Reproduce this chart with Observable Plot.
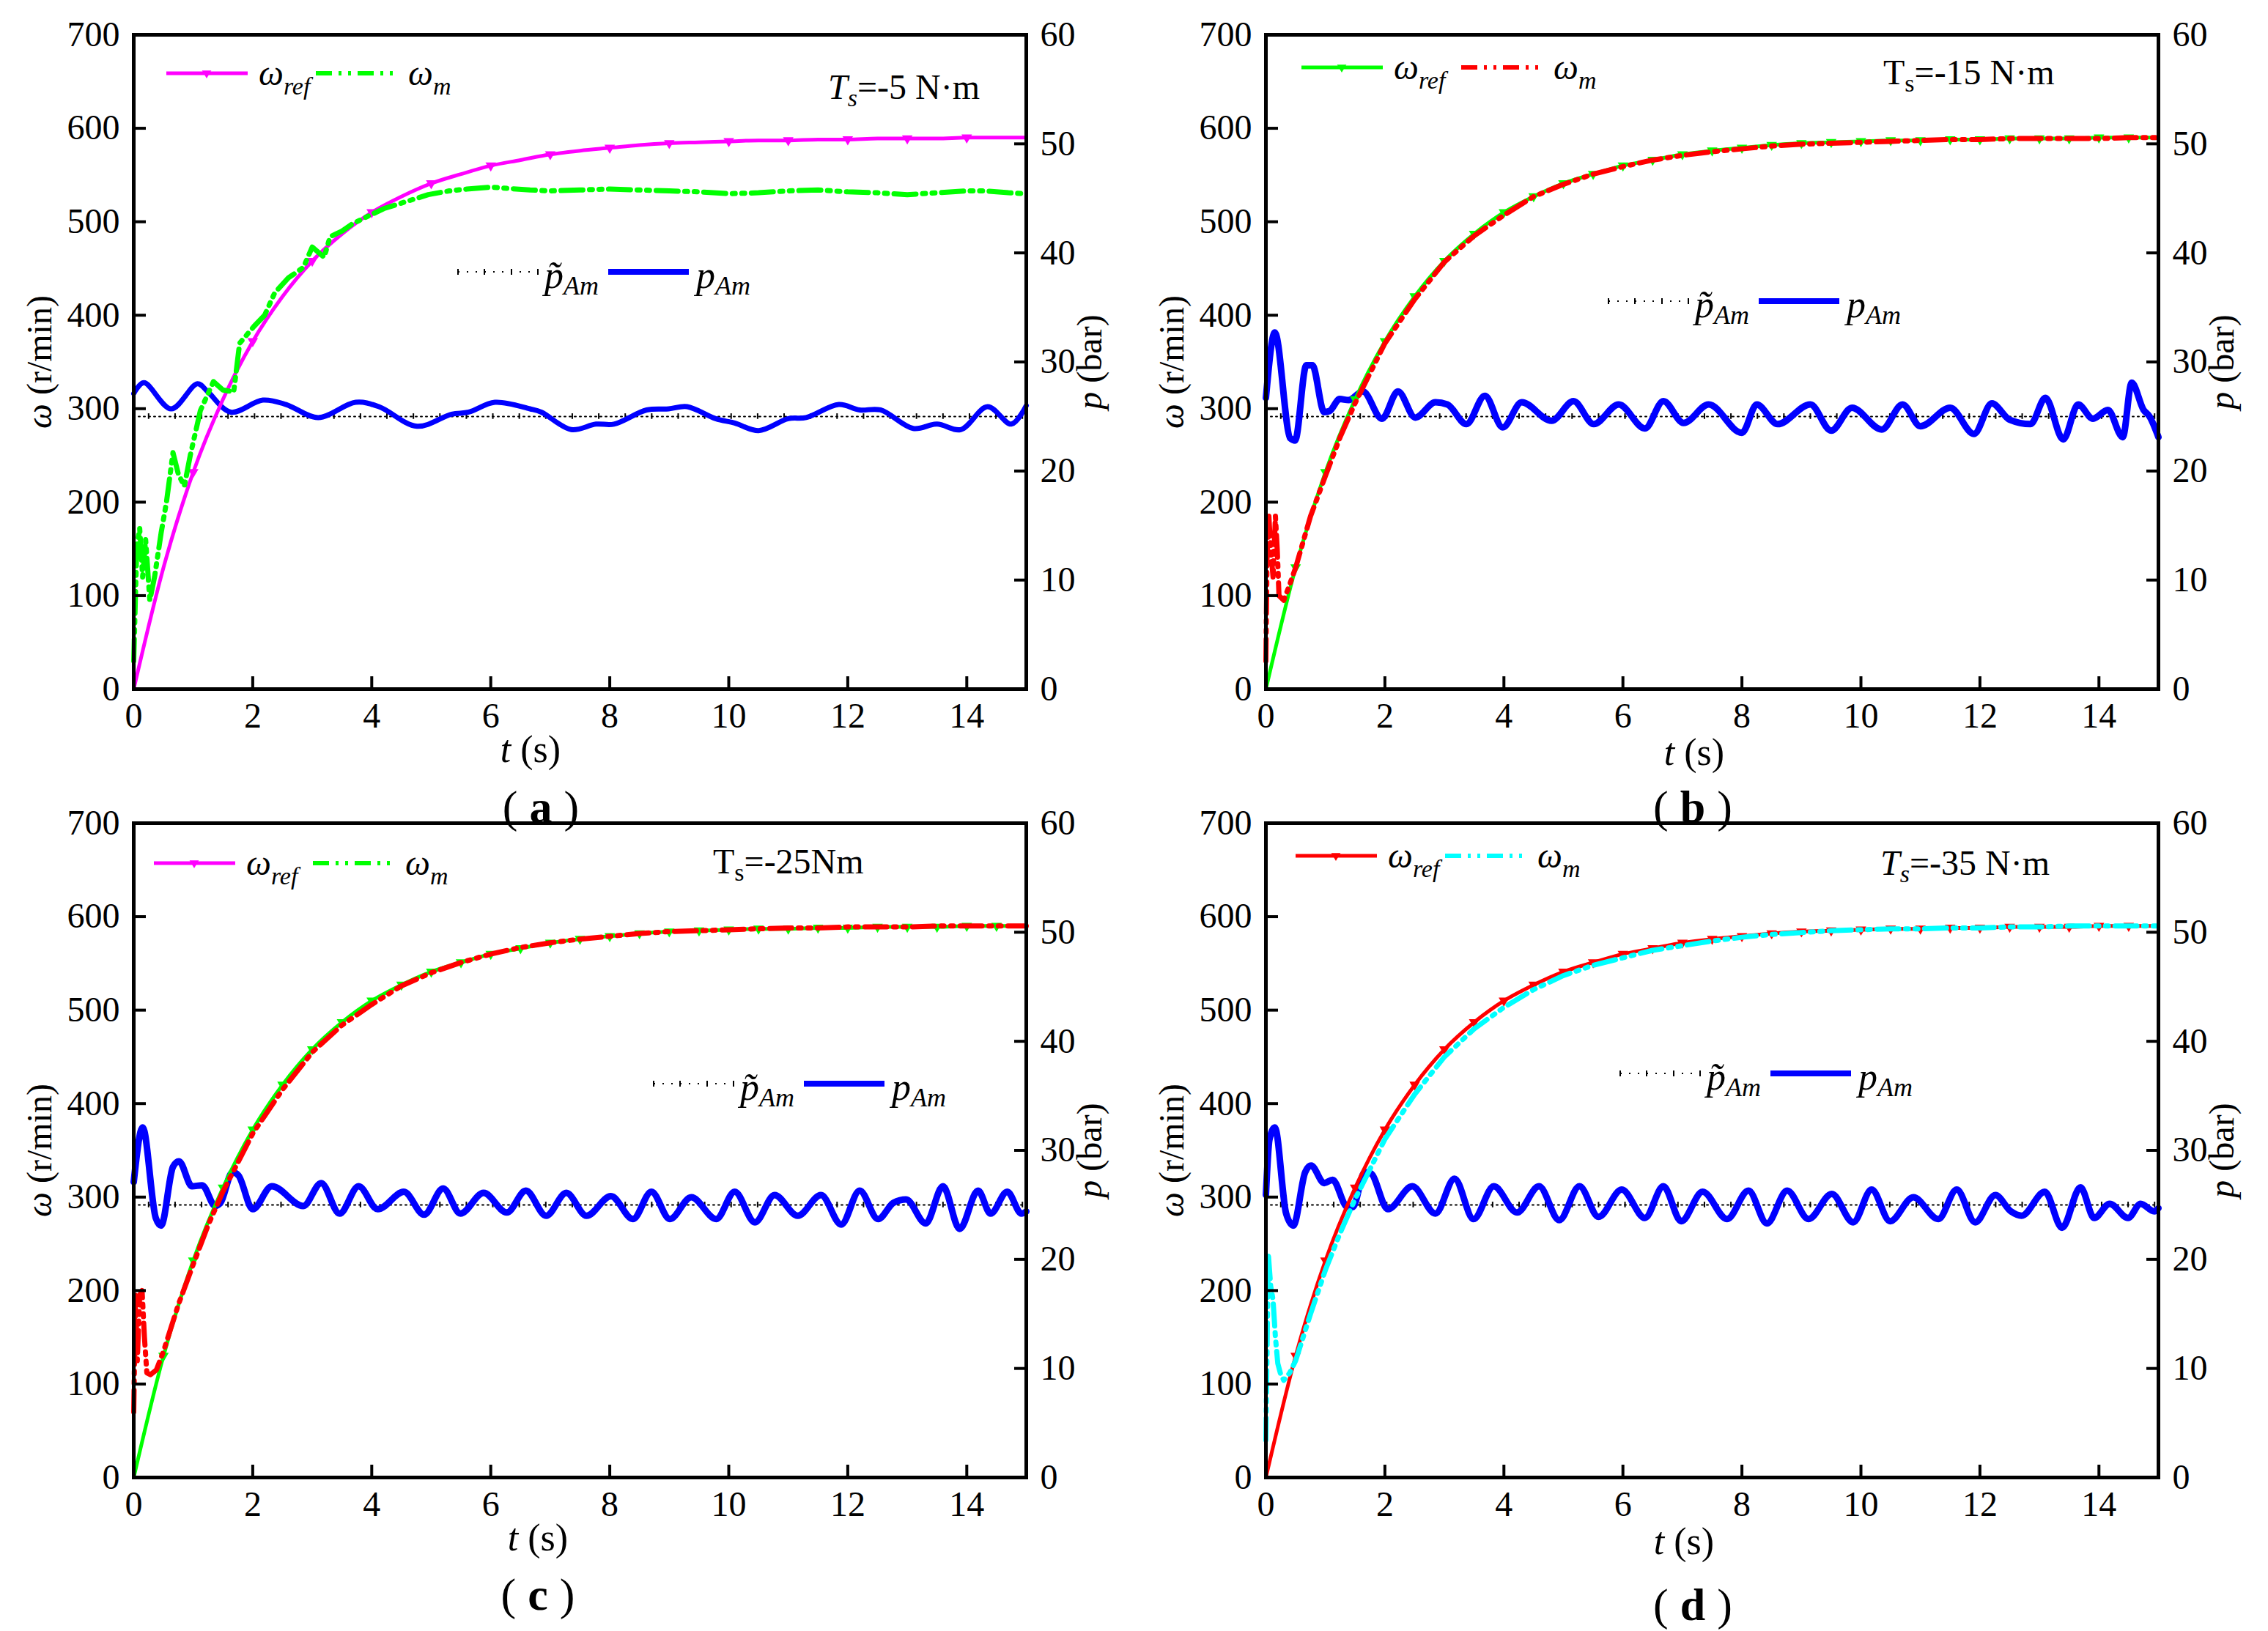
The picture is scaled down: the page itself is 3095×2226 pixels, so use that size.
<!DOCTYPE html>
<html>
<head>
<meta charset="utf-8">
<script src="https://cdn.jsdelivr.net/npm/d3@7"></script>
<script src="https://cdn.jsdelivr.net/npm/@observablehq/plot@0.6"></script>
<style>
  body { margin: 0; background: #fff; }
  #fig { position: relative; width: 3095px; height: 2226px; background: #fff; }
  .panel { position: absolute; width: 1545px; height: 1150px; }
  .panel svg { position: absolute; left: 0; top: 0; overflow: visible; }
</style>
</head>
<body>
<div id="fig"></div>
<script>
// axes
const xTicks = [0, 2, 4, 6, 8, 10, 12, 14];
const wTicks = [0, 100, 200, 300, 400, 500, 600, 700];
const pTicks = [0, 10, 20, 30, 40, 50, 60];
const wMax = 700;
const pMax = 60;
const pScale = wMax / pMax; // bar -> r/min position, right axis onto left axis

// reference speed ω_ref (r/min), same in all four runs
const tRef = [0, 0.5, 1, 1.5, 2, 2.5, 3, 3.5, 4, 4.5, 5, 5.5, 6, 6.5, 7, 7.5, 8, 8.5, 9, 9.5, 10, 10.5, 11, 11.5, 12, 12.5, 13, 13.5, 14, 14.5, 15];
const wRef = [0, 130, 232, 310, 372, 420, 458, 487, 510, 527, 541, 551, 560, 566, 572, 576, 579, 582, 584, 585, 586, 587, 587, 588, 588, 589, 589, 589, 590, 590, 590];

// measured speed ω_m (r/min)
const tmA = [0, 0.05, 0.1, 0.15, 0.2, 0.27, 0.35, 0.46, 0.55, 0.66, 0.75, 0.85, 0.95, 1.12, 1.34, 1.5, 1.68, 1.78, 2.02, 2.2, 2.37, 2.6, 2.85, 3.0, 3.2, 3.3, 3.5, 3.68, 4.2, 4.6, 4.95, 5.3, 5.6, 6.0, 6.66, 7.0, 7.5, 8.0, 8.5, 9.0, 9.5, 10.0, 10.5, 11.0, 11.5, 12.0, 12.5, 13.0, 13.5, 14.0, 14.3, 14.7, 15];
const wmA = [30, 150, 172, 120, 160, 95, 120, 167, 200, 253, 230, 217, 250, 298, 329, 320, 318, 370, 388, 400, 424, 440, 451, 473, 462, 484, 490, 498, 514, 522, 529, 533, 535, 537, 534, 533, 534, 535, 534, 533, 532, 530, 531, 533, 534, 532, 531, 529, 531, 533, 533, 531, 530];

const tmB = [0, 0.02, 0.05, 0.08, 0.12, 0.16, 0.19, 0.22, 0.3, 0.4, 0.5, 0.75, 1, 1.25, 1.5, 2, 2.5, 3, 3.5, 4, 4.5, 5, 5.5, 6, 6.5, 7, 7.5, 8, 8.5, 9, 9.5, 10, 10.5, 11, 11.5, 12, 12.5, 13, 13.5, 14, 14.5, 15];
const wmB = [30, 145, 185, 150, 120, 185, 150, 100, 95, 112, 130, 185, 228, 270, 306, 370, 417, 457, 485, 507, 527, 540, 551, 559, 566, 571, 575, 578, 581, 583, 584, 585, 586, 587, 588, 588, 589, 589, 589, 589, 590, 590];

const tmC = [0, 0.03, 0.06, 0.1, 0.14, 0.18, 0.22, 0.28, 0.38, 0.5, 0.75, 1, 1.25, 1.5, 2, 2.5, 3, 3.5, 4, 4.5, 5, 5.5, 6, 6.5, 7, 7.5, 8, 8.5, 9, 9.5, 10, 10.5, 11, 11.5, 12, 12.5, 13, 13.5, 14, 14.5, 15];
const wmC = [70, 195, 125, 195, 200, 150, 112, 110, 115, 135, 185, 228, 270, 306, 368, 415, 455, 484, 506, 526, 540, 551, 560, 567, 572, 576, 579, 582, 584, 585, 586, 587, 588, 588, 589, 589, 589, 590, 590, 590, 590];

const tmD = [0, 0.04, 0.08, 0.12, 0.16, 0.2, 0.25, 0.3, 0.4, 0.5, 0.75, 1, 1.25, 1.5, 2, 2.5, 3, 3.5, 4, 4.5, 5, 5.5, 6, 6.5, 7, 7.5, 8, 8.5, 9, 9.5, 10, 10.5, 11, 11.5, 12, 12.5, 13, 13.5, 14, 14.5, 15];
const wmD = [40, 240, 205, 190, 150, 122, 110, 104, 112, 125, 175, 222, 262, 298, 362, 410, 450, 480, 503, 522, 537, 548, 556, 564, 569, 574, 578, 581, 583, 585, 586, 587, 587, 588, 588, 589, 589, 590, 590, 590, 590];

// chamber pressure p_Am (bar)
const tpA = [0, 0.17, 0.63, 1.07, 1.24, 1.63, 2.17, 2.56, 3.1, 3.73, 4.12, 4.76, 5.34, 5.63, 6.07, 6.66, 6.85, 7.35, 7.77, 8.07, 8.62, 8.99, 9.3, 9.78, 10.1, 10.5, 11.0, 11.3, 11.85, 12.2, 12.55, 13.1, 13.5, 13.9, 14.35, 14.75, 15];
const pA = [27.1, 28.1, 25.7, 28.0, 27.3, 25.4, 26.5, 26.1, 24.9, 26.3, 25.9, 24.1, 25.2, 25.4, 26.3, 25.7, 25.4, 23.8, 24.3, 24.3, 25.6, 25.7, 25.9, 24.8, 24.4, 23.7, 24.8, 24.9, 26.1, 25.6, 25.6, 23.9, 24.3, 23.8, 25.9, 24.3, 26.0];

const tpB = [0, 0.15, 0.41, 0.49, 0.68, 0.78, 0.98, 1.07, 1.24, 1.39, 1.63, 1.95, 2.22, 2.51, 2.85, 3.05, 3.37, 3.68, 3.98, 4.3, 4.8, 5.17, 5.51, 5.93, 6.37, 6.68, 7.02, 7.44, 8.0, 8.25, 8.6, 9.15, 9.5, 9.85, 10.35, 10.7, 11.0, 11.5, 11.9, 12.2, 12.5, 12.85, 13.1, 13.4, 13.65, 13.9, 14.15, 14.4, 14.55, 14.75, 14.85, 15];
const pB = [26.7, 32.7, 23.0, 22.8, 29.7, 29.7, 25.4, 25.5, 26.6, 26.5, 27.3, 24.8, 27.3, 24.9, 26.3, 26.1, 24.3, 26.9, 24.0, 26.3, 24.6, 26.4, 24.3, 26.1, 23.9, 26.4, 24.4, 26.1, 23.5, 26.1, 24.3, 26.1, 23.7, 25.8, 23.8, 26.1, 24.1, 25.8, 23.4, 26.2, 24.7, 24.3, 26.7, 22.9, 26.1, 24.8, 25.6, 23.1, 28.1, 25.6, 25.0, 23.1];

const tpC = [0, 0.15, 0.37, 0.46, 0.66, 0.76, 0.98, 1.15, 1.37, 1.46, 1.66, 1.76, 2.0, 2.32, 2.85, 3.15, 3.46, 3.78, 4.1, 4.54, 4.88, 5.2, 5.49, 5.88, 6.27, 6.59, 6.93, 7.27, 7.61, 8.02, 8.39, 8.7, 9.01, 9.37, 9.79, 10.1, 10.44, 10.77, 11.16, 11.55, 11.89, 12.2, 12.51, 12.77, 12.98, 13.31, 13.6, 13.88, 14.19, 14.4, 14.68, 14.92, 15];
const pC = [27.1, 32.1, 23.8, 23.1, 28.5, 29.0, 26.7, 26.8, 24.9, 25.2, 28.0, 27.7, 24.6, 26.7, 24.9, 27.0, 24.2, 26.7, 24.6, 26.2, 24.1, 26.5, 24.2, 26.1, 24.3, 26.3, 24.0, 26.1, 24.0, 25.8, 23.7, 26.2, 23.7, 25.7, 23.7, 26.2, 23.4, 25.9, 24.0, 25.9, 23.2, 26.3, 23.7, 25.2, 25.5, 23.3, 26.7, 22.8, 26.3, 24.2, 26.2, 24.2, 24.4];

const tpD = [0, 0.06, 0.15, 0.34, 0.46, 0.66, 0.76, 0.98, 1.12, 1.37, 1.46, 1.66, 1.76, 2.05, 2.46, 2.85, 3.17, 3.49, 3.83, 4.22, 4.59, 4.93, 5.27, 5.59, 5.98, 6.37, 6.68, 6.98, 7.34, 7.75, 8.11, 8.42, 8.76, 9.12, 9.51, 9.87, 10.18, 10.49, 10.88, 11.3, 11.61, 11.92, 12.26, 12.52, 12.7, 13.09, 13.38, 13.69, 13.92, 14.18, 14.49, 14.7, 14.93, 15];
const pD = [25.9, 31.0, 32.1, 24.2, 23.1, 28.0, 28.6, 27.0, 27.3, 24.8, 24.8, 28.0, 27.9, 24.6, 26.7, 24.2, 27.4, 23.7, 26.7, 24.3, 26.7, 23.6, 26.7, 23.9, 26.4, 23.8, 26.7, 23.5, 26.2, 23.7, 26.3, 23.3, 26.3, 23.7, 26.0, 23.4, 26.4, 23.5, 25.7, 23.7, 26.4, 23.4, 25.9, 24.4, 24.0, 26.2, 22.9, 26.6, 23.8, 25.1, 23.8, 25.1, 24.4, 24.7];

// pressure reference p~_Am (bar)
const tTilde = [0.08, 15];
const pTilde = 25;

const serif = "'Liberation Serif', serif";

const triangleDown = {
  draw(context, size) {
    const h = Math.sqrt(size);
    context.moveTo(-0.58 * h, -0.35 * h);
    context.lineTo(0.58 * h, -0.35 * h);
    context.lineTo(0, 0.65 * h);
    context.closePath();
  },
};

const panels = [
  {
    name: "a", left: 0, top: 0, tm: tmA, wm: wmA, tp: tpA, p: pA,
    refColor: "#ff00ff", mColor: "#00ff00", legRef: "#ff00ff", legM: "#00ff00",
    markStep: 1, pWidth: 7, pCurve: "catmull-rom",
    leg1: {x: 227, y: 100, gap: 204}, leg2: {x: 625, y: 371},
    ts: {x: 1130, y: 135, italic: true, rest: "=-5 N·m"},
    tLabel: {x: 724, y: 1040}, cap: {x: 738, y: 1122},
  },
  {
    name: "b", left: 1545, top: 0, tm: tmB, wm: wmB, tp: tpB, p: pB,
    refColor: "#00ff00", mColor: "#ff0000", legRef: "#00ff00", legM: "#ff0000",
    markStep: 0.5, pWidth: 9, pCurve: "monotone-x",
    leg1: {x: 231, y: 92, gap: 218}, leg2: {x: 650, y: 411},
    ts: {x: 1025, y: 115, italic: false, rest: "=-15 N·m"},
    tLabel: {x: 767, y: 1044}, cap: {x: 765, y: 1122},
  },
  {
    name: "c", left: 0, top: 1076, tm: tmC, wm: wmC, tp: tpC, p: pC,
    refColor: "#00ff00", mColor: "#ff0000", legRef: "#ff00ff", legM: "#00ff00",
    markStep: 0.5, pWidth: 9, pCurve: "monotone-x",
    leg1: {x: 210, y: 102, gap: 217}, leg2: {x: 892, y: 403},
    ts: {x: 973, y: 116, italic: false, rest: "=-25Nm"},
    tLabel: {x: 734, y: 1040}, cap: {x: 734, y: 1121},
  },
  {
    name: "d", left: 1545, top: 1076, tm: tmD, wm: wmD, tp: tpD, p: pD,
    refColor: "#ff0000", mColor: "#00ffff", legRef: "#ff0000", legM: "#00ffff",
    markStep: 0.5, pWidth: 9, pCurve: "monotone-x",
    leg1: {x: 223, y: 92, gap: 204}, leg2: {x: 666, y: 389},
    ts: {x: 1021, y: 118, italic: true, rest: "=-35 N·m"},
    tLabel: {x: 753, y: 1045}, cap: {x: 765, y: 1135},
  },
];

const mDash = "30,9,4,9,4,9";

function drawPanel(cfg) {
  const ref = tRef.map((t, i) => ({t, w: wRef[i]}));
  const markers = ref.filter((d) => d.t > 0 && d.t < 15 && Number.isInteger(d.t / cfg.markStep));
  const meas = cfg.tm.map((t, i) => ({t, w: cfg.wm[i]}));
  const press = cfg.tp.map((t, i) => ({t, w: cfg.p[i] * pScale}));
  const tilde = tTilde.map((t) => ({t, w: pTilde * pScale}));
  const tildeTicks = d3.range(0.25, 15, 0.445).map((t) => ({t}));

  const chart = Plot.plot({
    width: 1545,
    height: 1076,
    marginLeft: 182,
    marginRight: 145,
    marginTop: 47,
    marginBottom: 136,
    style: `font-family: ${serif}; font-size: 48px; background: transparent; color: black;`,
    x: {domain: [0, 15]},
    y: {domain: [0, wMax]},
    marks: [
      Plot.line(tilde, {x: "t", y: "w", stroke: "black", strokeWidth: 2, strokeDasharray: "2,5"}),
      Plot.ruleX(tildeTicks, {x: "t", y1: pTilde * pScale - 3, y2: pTilde * pScale + 3, stroke: "black", strokeWidth: 2}),
      Plot.line(press, {x: "t", y: "w", stroke: "#0000ff", strokeWidth: cfg.pWidth, curve: cfg.pCurve, strokeLinejoin: "round"}),
      Plot.line(ref, {x: "t", y: "w", stroke: cfg.refColor, strokeWidth: 5, curve: "monotone-x"}),
      Plot.dot(markers, {x: "t", y: "w", symbol: triangleDown, r: 7, fill: cfg.refColor, stroke: null}),
      Plot.line(meas, {x: "t", y: "w", stroke: cfg.mColor, strokeWidth: 7, strokeDasharray: mDash}),
      Plot.frame({stroke: "black", strokeWidth: 5}),
      // inward ticks
      Plot.axisX({ticks: xTicks, tickSize: -17, strokeWidth: 4, text: null, label: null}),
      Plot.axisY({ticks: wTicks, tickSize: -17, strokeWidth: 4, text: null, label: null}),
      Plot.axisY({anchor: "right", ticks: pTicks.map((v) => v * pScale), tickSize: -17, strokeWidth: 4, text: null, label: null}),
      // tick labels
      Plot.axisX({ticks: xTicks, tickSize: 0, tickPadding: 18, fontSize: 48, fontFamily: serif, label: null}),
      Plot.axisY({ticks: wTicks, tickSize: 0, tickPadding: 19, fontSize: 48, fontFamily: serif, label: null}),
      Plot.axisY({anchor: "right", ticks: pTicks.map((v) => v * pScale), tickFormat: (d) => String(Math.round(d / pScale)),
        tickSize: 0, tickPadding: 19, fontSize: 48, fontFamily: serif, label: null}),
    ],
  });
  return chart;
}

function subText(svg, x, y, main, sub, o) {
  const t = svg.append("text").attr("x", x).attr("y", y)
    .attr("font-size", o.size).attr("font-style", o.italic ? "italic" : "normal");
  t.append("tspan").text(main);
  t.append("tspan").attr("font-size", o.subSize).attr("dy", o.dy).text(sub);
  if (o.rest) t.append("tspan").attr("dy", -o.dy).attr("font-style", "normal").text(o.rest);
  return t;
}

function drawOverlay(div, cfg) {
  const svg = d3.select(div).append("svg")
    .attr("width", 1545).attr("height", 1150)
    .style("font-family", serif)
    .style("pointer-events", "none");

  // speed legend
  const L = cfg.leg1;
  svg.append("line").attr("x1", L.x).attr("x2", L.x + 111).attr("y1", L.y).attr("y2", L.y)
    .attr("stroke", cfg.legRef).attr("stroke-width", 5);
  svg.append("path").attr("d", d3.symbol(triangleDown, 120)())
    .attr("transform", `translate(${L.x + 55},${L.y})`).attr("fill", cfg.legRef);
  subText(svg, L.x + 126, L.y + 16, "ω", "ref", {size: 48, subSize: 34, dy: 13, italic: true});
  svg.append("line").attr("x1", L.x + L.gap).attr("x2", L.x + L.gap + 111).attr("y1", L.y).attr("y2", L.y)
    .attr("stroke", cfg.legM).attr("stroke-width", 6).attr("stroke-dasharray", "22,9,4,9,4,9");
  subText(svg, L.x + L.gap + 126, L.y + 16, "ω", "m", {size: 48, subSize: 34, dy: 13, italic: true});

  // pressure legend
  const P = cfg.leg2;
  svg.append("line").attr("x1", P.x).attr("x2", P.x + 113).attr("y1", P.y).attr("y2", P.y)
    .attr("stroke", "black").attr("stroke-width", 2).attr("stroke-dasharray", "2,10");
  svg.selectAll(null).data([0, 36, 73, 109]).join("line")
    .attr("x1", (d) => P.x + d).attr("x2", (d) => P.x + d)
    .attr("y1", P.y - 4).attr("y2", P.y + 4).attr("stroke", "black").attr("stroke-width", 2);
  subText(svg, P.x + 118, P.y + 22, "p\u0303", "Am", {size: 52, subSize: 36, dy: 9, italic: true});
  svg.append("line").attr("x1", P.x + 205).attr("x2", P.x + 315).attr("y1", P.y).attr("y2", P.y)
    .attr("stroke", "#0000ff").attr("stroke-width", 8);
  subText(svg, P.x + 325, P.y + 22, "p", "Am", {size: 52, subSize: 36, dy: 9, italic: true});

  // load torque
  subText(svg, cfg.ts.x, cfg.ts.y, "T", "s", {size: 48, subSize: 34, dy: 10, italic: cfg.ts.italic, rest: cfg.ts.rest});

  // axis titles
  const yl = svg.append("text").attr("transform", "translate(70,494) rotate(-90)")
    .attr("text-anchor", "middle").attr("font-size", 48);
  yl.append("tspan").attr("font-style", "italic").text("ω");
  yl.append("tspan").text(" (r/min)");
  const pl = svg.append("text").attr("transform", "translate(1503,494) rotate(-90)")
    .attr("text-anchor", "middle").attr("font-size", 48);
  pl.append("tspan").attr("font-style", "italic").text("p");
  pl.append("tspan").text(" (bar)");
  const tl = svg.append("text").attr("x", cfg.tLabel.x).attr("y", cfg.tLabel.y)
    .attr("text-anchor", "middle").attr("font-size", 52);
  tl.append("tspan").attr("font-style", "italic").text("t");
  tl.append("tspan").text(" (s)");

  // panel caption
  const cap = svg.append("text").attr("x", cfg.cap.x).attr("y", cfg.cap.y)
    .attr("text-anchor", "middle").attr("font-size", 62);
  cap.append("tspan").text("(");
  cap.append("tspan").attr("dx", 16).attr("font-weight", "bold").text(cfg.name);
  cap.append("tspan").attr("dx", 16).text(")");
}

const fig = document.getElementById("fig");
panels.forEach((cfg) => {
  const div = document.createElement("div");
  div.className = "panel";
  div.style.left = cfg.left + "px";
  div.style.top = cfg.top + "px";
  fig.append(div);
  div.append(drawPanel(cfg));
  drawOverlay(div, cfg);
});
</script>
</body>
</html>
